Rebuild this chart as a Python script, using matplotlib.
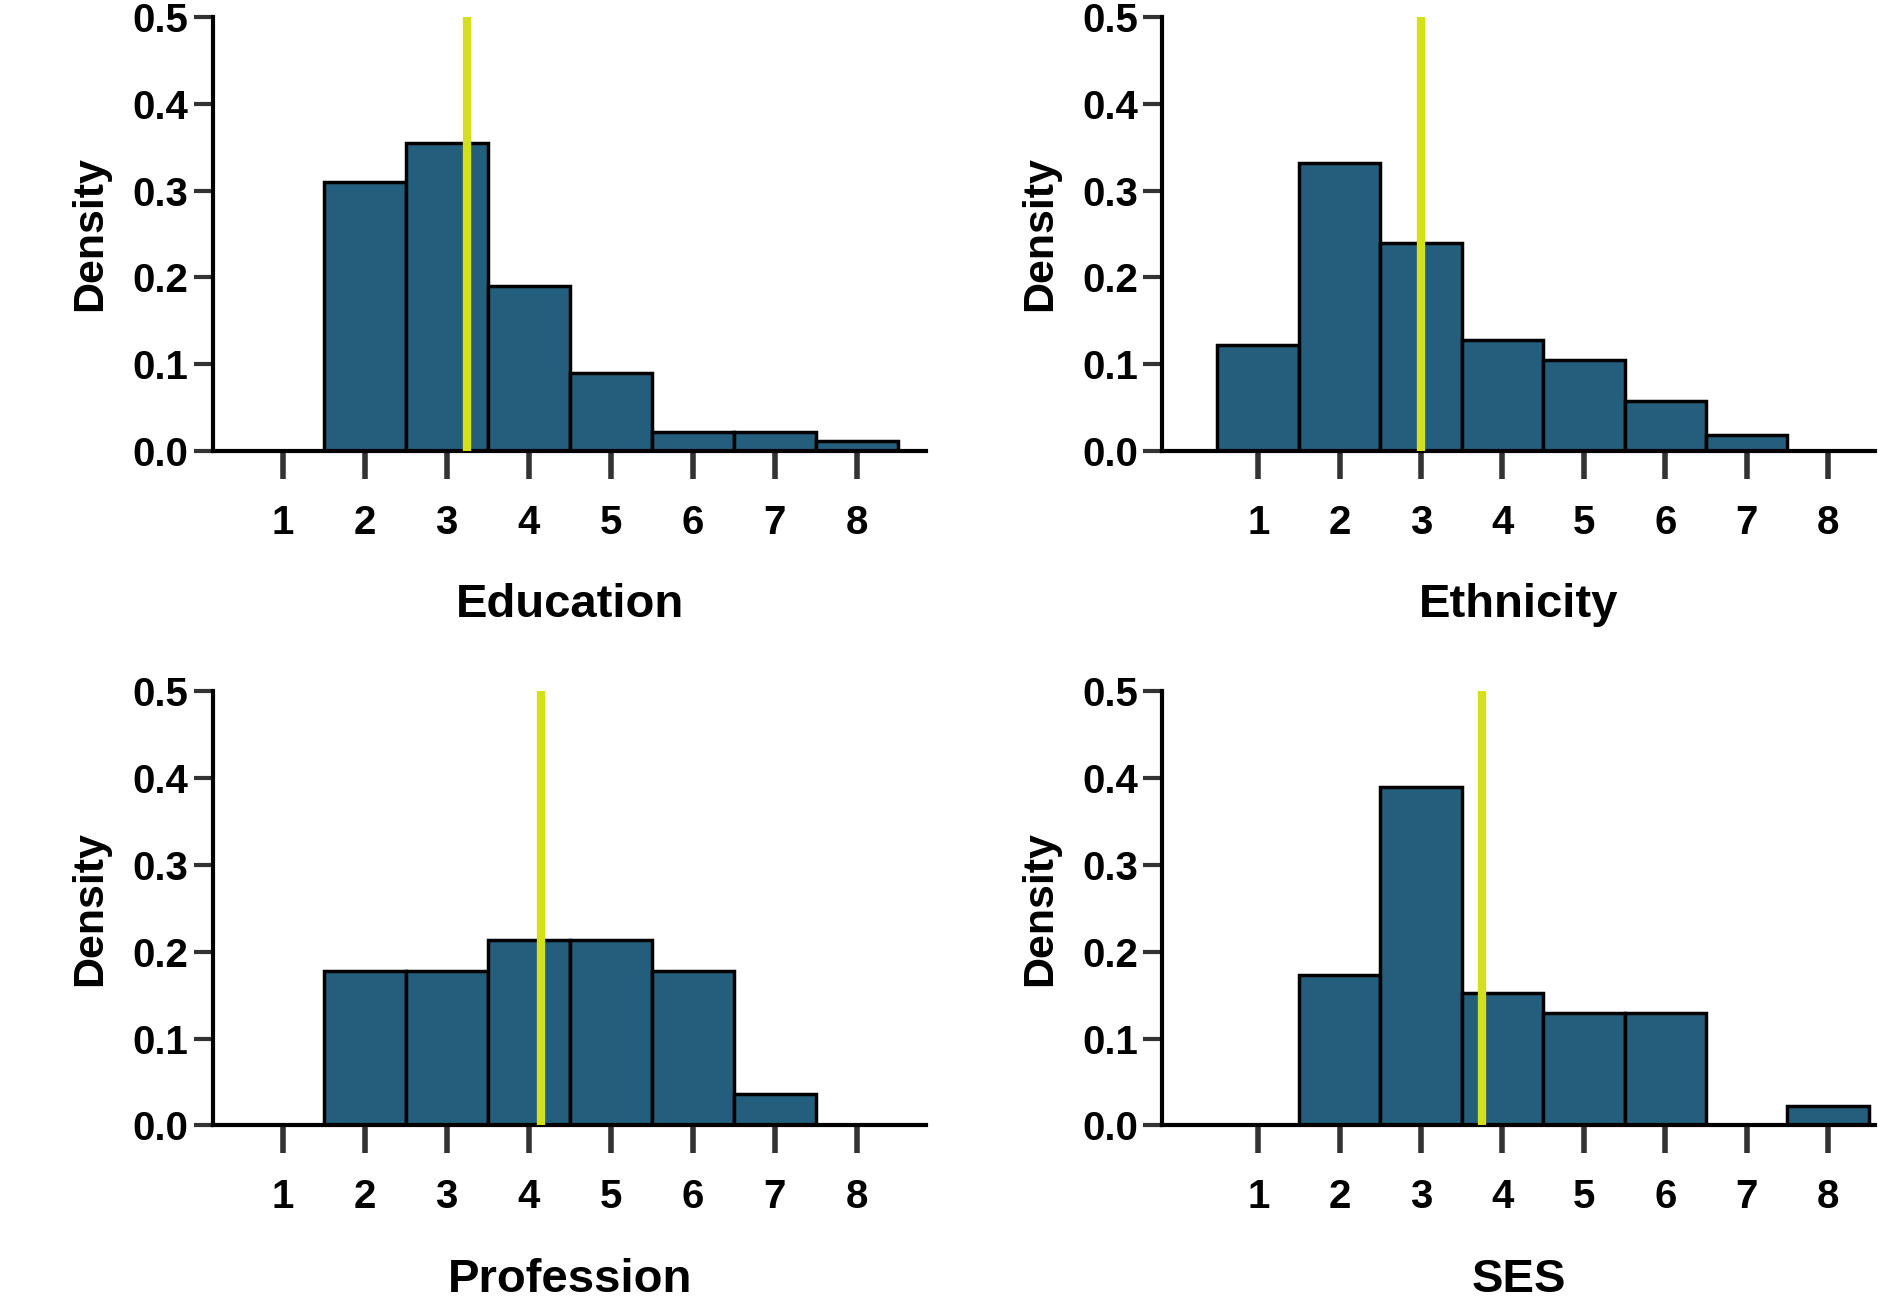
import matplotlib
matplotlib.use('Agg')
import matplotlib.pyplot as plt

plt.rcParams['font.family'] = ['Liberation Sans', 'DejaVu Sans']
plt.rcParams['font.weight'] = 'bold'

bins = [1, 2, 3, 4, 5, 6, 7, 8]
education = [0, 0.31, 0.355, 0.19, 0.09, 0.022, 0.022, 0.012]
ethnicity = [0.122, 0.332, 0.24, 0.128, 0.105, 0.058, 0.018, 0]
profession = [0, 0.178, 0.178, 0.213, 0.213, 0.178, 0.036, 0]
ses = [0, 0.173, 0.39, 0.152, 0.13, 0.13, 0, 0.022]
means = {'Education': 3.25, 'Ethnicity': 3.0, 'Profession': 4.15, 'SES': 3.75}

panels = [('Education', education), ('Ethnicity', ethnicity),
          ('Profession', profession), ('SES', ses)]
boxes = [(0.112, 0.655), (0.611, 0.655), (0.112, 0.139), (0.611, 0.139)]
xlims = [(0.15, 8.85), (-0.18, 8.58), (0.15, 8.85), (-0.18, 8.58)]
w, h = 0.375, 0.332

fig = plt.figure(figsize=(19.02, 13.07), dpi=100)
for (name, vals), (x0, y0), xl in zip(panels, boxes, xlims):
    ax = fig.add_axes([x0, y0, w, h])
    ax.bar(bins, vals, width=1.0, color='#245e7d', edgecolor='black', linewidth=2.5, zorder=2)
    ax.axvline(means[name], color='#d4e01c', linewidth=6, zorder=3)
    ax.set_xlim(*xl)
    ax.set_ylim(0, 0.5)
    ax.set_xticks(bins)
    ax.set_yticks([0, 0.1, 0.2, 0.3, 0.4, 0.5])
    ax.set_yticklabels(['0.0', '0.1', '0.2', '0.3', '0.4', '0.5'])
    for s in ['top', 'right']:
        ax.spines[s].set_visible(False)
    for s in ['left', 'bottom']:
        ax.spines[s].set_linewidth(3)
    ax.tick_params(axis='x', direction='out', length=20, width=4, color='#333333',
                   pad=18, labelsize=29)
    ax.tick_params(axis='y', direction='out', length=14, width=3, color='#333333',
                   labelsize=29)
    ax.set_xlabel(name, fontsize=34, fontweight='bold', labelpad=30)
    ax.set_ylabel('Density', fontsize=31, fontweight='bold', labelpad=16)

fig.savefig('out.png', dpi=100)
